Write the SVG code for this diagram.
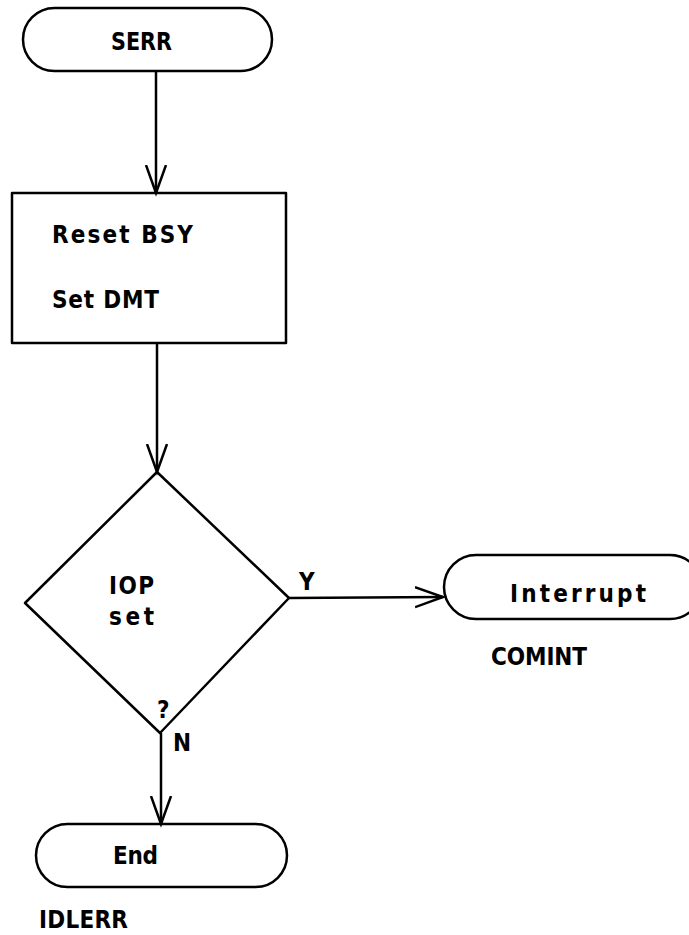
<svg xmlns="http://www.w3.org/2000/svg" width="689" height="935" viewBox="0 0 689 935">
<style>
.s{fill:none;stroke:#000;stroke-width:2.5;stroke-linejoin:round}
.t{font-family:"DejaVu Sans Condensed","Liberation Sans Narrow","DejaVu Sans",sans-serif;font-stretch:condensed;font-weight:bold;font-size:24px;fill:#000}
.c{stroke:#000;stroke-width:2.5;fill:none}
</style>
<defs>
<marker id="a" markerUnits="userSpaceOnUse" markerWidth="34" markerHeight="26" refX="28" refY="13" orient="auto">
<path d="M0,3 L28,13 L0,23" fill="none" stroke="#000" stroke-width="2.5"/>
</marker>
</defs>
<g id="n-serr">
<rect class="s" x="23" y="8" width="249" height="63" rx="31.5"/>
<text class="t" x="111" y="50" textLength="61" lengthAdjust="spacingAndGlyphs">SERR</text>
</g>
<g id="n-box">
<rect class="s" x="12" y="193" width="274" height="150"/>
<text class="t" x="52" y="243" textLength="141" lengthAdjust="spacing">Reset BSY</text>
<text class="t" x="52" y="308" textLength="107" lengthAdjust="spacing">Set DMT</text>
</g>
<g id="n-iop">
<polygon class="s" points="157,472 289,598 160,733 25,603"/>
<text class="t" x="109" y="594" textLength="45" lengthAdjust="spacing">IOP</text>
<text class="t" x="109" y="625" textLength="45" lengthAdjust="spacing">set</text>
<text class="t" x="157" y="718" font-size="20">?</text>
</g>
<g id="n-int">
<rect class="s" x="444" y="555" width="258" height="64" rx="32"/>
<text class="t" x="510" y="602" textLength="136" lengthAdjust="spacing">Interrupt</text>
<text class="t" x="491" y="665" textLength="96" lengthAdjust="spacing">COMINT</text>
</g>
<g id="n-end">
<rect class="s" x="36" y="824" width="251" height="63" rx="31.5"/>
<text class="t" x="113" y="864" textLength="45" lengthAdjust="spacing">End</text>
<text class="t" x="39" y="928" textLength="89" lengthAdjust="spacing">IDLERR</text>
</g>
<g id="connectors">
<line class="c" x1="156" y1="71" x2="156" y2="193" marker-end="url(#a)"/>
<line class="c" x1="157" y1="343" x2="157" y2="472" marker-end="url(#a)"/>
<line class="c" x1="289" y1="598" x2="443" y2="597" marker-end="url(#a)"/>
<text class="t" x="299" y="590" textLength="14" lengthAdjust="spacing">Y</text>
<line class="c" x1="161" y1="733" x2="161" y2="824" marker-end="url(#a)"/>
<text class="t" x="173" y="751" textLength="14" lengthAdjust="spacing">N</text>
</g>
</svg>
